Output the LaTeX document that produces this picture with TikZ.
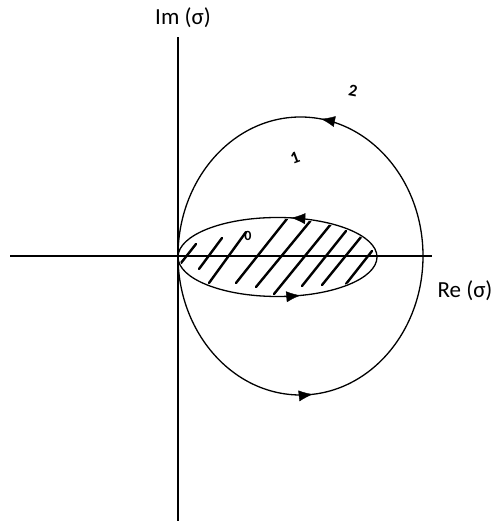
\documentclass[tikz,border=0pt]{standalone}
\usepackage{fontspec}
\setmainfont{Carlito}
\usetikzlibrary{arrows.meta,decorations.markings}
\tikzset{
  curve/.style={line width=1.3pt},
  axis/.style={line width=1.3pt},
  hatch/.style={line width=2.4pt, line cap=round},
  tip/.style={decorate, decoration={markings, mark=at position #1 with {\arrow{Latex[length=14pt,width=11pt]}}}},
  lbl/.style={inner sep=0pt, font=\fontsize{23}{26}\selectfont},
  hand/.style={inner sep=0pt}
}
\begin{document}
\begin{tikzpicture}[x=1pt,y=1pt]
\useasboundingbox (0,0) rectangle (500,521);
% axes
\coordinate (vtop) at (178,484);
\coordinate (vbot) at (178,0);
\coordinate (hl) at (10,265);
\coordinate (hr) at (432,265);
\draw[axis] (vbot) -- (vtop);
\draw[axis] (hl) -- (hr);
% labels
\node[lbl] (im) at (183,503) {Im (σ)};
\node[lbl] (re) at (465,230) {Re (σ)};
% big contour
\coordinate (bc) at (300.5,265);
\draw[curve] (bc) ellipse [x radius=122.5, y radius=139];
\path[tip=0.225] (bc) ellipse [x radius=122.5, y radius=139];
\path[tip=0.765] (bc) ellipse [x radius=122.5, y radius=139];
% inner ellipse
\coordinate (ec) at (277.5,264);
\draw[curve] (ec) ellipse [x radius=99.5, y radius=39.5];
\path[tip=0.22] (ec) ellipse [x radius=99.5, y radius=39.5];
\path[tip=0.80] (ec) ellipse [x radius=99.5, y radius=39.5];
% hatching
\begin{scope}
\clip (ec) ellipse [x radius=98, y radius=38];
\draw[hatch] (181,258) -- (196,277);
\draw[hatch] (199,252) -- (222,283);
\draw[hatch] (209,238) -- (246,289);
\draw[hatch] (236,238) -- (290,306);
\draw[hatch] (256,234) -- (312,302);
\draw[hatch] (274,227) -- (331,297);
\draw[hatch] (302,235) -- (346,290);
\draw[hatch] (322,236) -- (361,284);
\draw[hatch] (346,237) -- (372,270);
\end{scope}
% region labels
\node[hand, font=\fontsize{14}{15}\selectfont\bfseries] (r0) at (248,285) {0};
\node[hand, font=\fontsize{17}{18}\selectfont\bfseries, rotate=20] (r1) at (295,363) {1};
\node[hand, font=\fontsize{17}{18}\selectfont\bfseries, rotate=-10] (r2) at (353,430) {2};
\end{tikzpicture}
\end{document}
